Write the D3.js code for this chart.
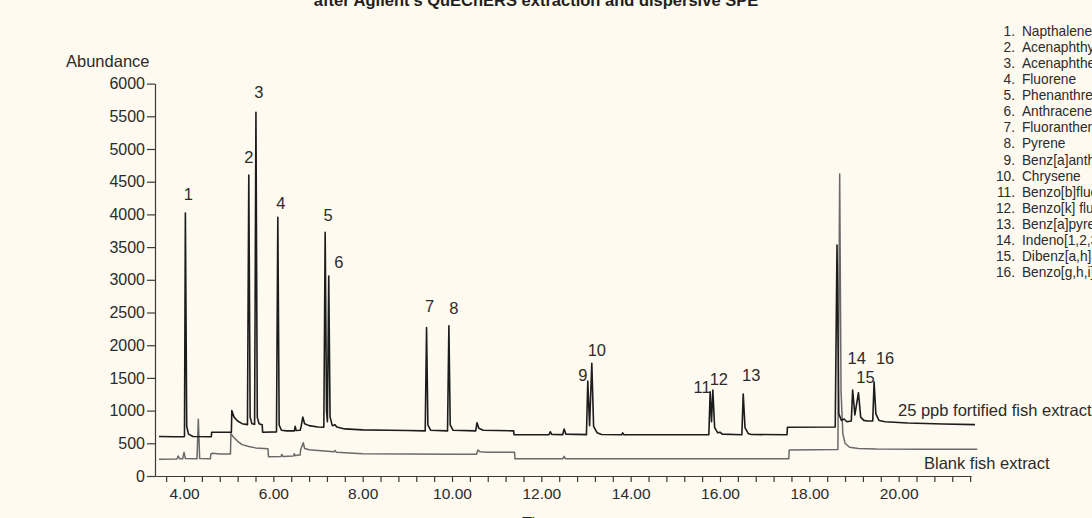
<!DOCTYPE html>
<html>
<head>
<meta charset="utf-8">
<script src="https://cdn.jsdelivr.net/npm/d3@7"></script>
<style>
  html, body { margin: 0; padding: 0; background: #fefaef; overflow: hidden; }
  svg { display: block; }
  .lbl { font-family: "Liberation Sans", Arial, sans-serif; fill: #2b2b2b; }
</style>
</head>
<body>
<div id="chart"></div>
<script>
// ---- data ----
var titleText = "after Agilent's QuEChERS extraction and dispersive SPE";

// 25 ppb fortified fish extract: [time (min), abundance]
var fortifiedTrace = [
    [3.44, 605], [3.8, 600], [4.0, 600],
    [4.01, 605], [4.03, 4020], [4.06, 760], [4.1, 640], [4.2, 605], [4.61, 600],
    [4.62, 670], [5.06, 670],
    [5.07, 1000], [5.12, 900], [5.2, 840], [5.3, 800], [5.42, 785],
    [5.45, 4600], [5.48, 900], [5.52, 800], [5.58, 790],
    [5.61, 5560], [5.64, 900], [5.68, 800], [5.75, 785],
    [5.76, 670], [6.07, 675],
    [6.10, 3955], [6.13, 780], [6.18, 700], [6.3, 690], [6.47, 690], [6.49, 760], [6.51, 695],
    [6.6, 700], [6.62, 750], [6.66, 900], [6.7, 800], [6.8, 770], [7.0, 750], [7.13, 745],
    [7.16, 3726], [7.19, 1000], [7.21, 830],
    [7.24, 3058], [7.27, 900], [7.32, 770], [7.38, 785], [7.42, 750], [7.6, 720], [8.0, 705],
    [8.6, 700], [9.0, 695], [9.40, 690],
    [9.43, 2268], [9.46, 780], [9.52, 700], [9.90, 690],
    [9.93, 2298], [9.96, 780], [10.02, 700], [10.53, 690], [10.56, 815], [10.6, 730], [10.7, 700], [11.38, 690],
    [11.39, 630], [12.17, 630], [12.20, 677], [12.23, 635], [12.48, 632], [12.51, 718], [12.55, 640], [13.01, 632],
    [13.04, 1452], [13.08, 770],
    [13.13, 1723], [13.17, 760], [13.25, 660], [13.35, 635], [13.8, 630], [13.82, 660], [13.85, 630], [15.75, 630],
    [15.78, 1289], [15.81, 830],
    [15.84, 1315], [15.88, 740], [15.95, 660], [16.0, 670], [16.05, 640], [16.49, 630],
    [16.52, 1254], [16.56, 740], [16.63, 650], [16.7, 635], [17.5, 630],
    [17.51, 745], [18.58, 750],
    [18.62, 3532], [18.66, 950], [18.72, 850], [18.78, 871], [18.84, 830], [18.94, 840],
    [18.97, 1315], [19.02, 933],
    [19.10, 1274], [19.15, 900], [19.22, 850], [19.3, 840], [19.42, 840],
    [19.45, 1442], [19.49, 950], [19.56, 850], [19.7, 830], [20.2, 810], [21.0, 795], [21.71, 785]
];

// blank fish extract: [time (min), abundance]
var blankTrace = [
    [3.44, 258], [3.84, 260], [3.87, 306], [3.9, 262], [3.97, 262], [4.0, 362], [4.03, 268],
    [4.29, 262], [4.32, 867], [4.35, 268], [4.59, 262],
    [4.60, 336], [4.64, 348], [4.8, 336], [5.04, 336],
    [5.05, 653], [5.1, 600], [5.2, 530], [5.3, 480], [5.45, 450], [5.6, 430], [5.88, 415],
    [5.89, 295], [6.17, 298], [6.19, 330], [6.21, 300], [6.45, 305], [6.47, 340], [6.49, 310],
    [6.55, 320], [6.60, 320], [6.61, 400], [6.67, 509], [6.7, 420], [6.8, 400], [7.0, 390],
    [7.36, 370], [7.38, 390], [7.41, 365], [8.0, 340], [9.0, 335], [10.0, 333],
    [10.55, 332], [10.58, 397], [10.63, 370], [10.8, 365], [11.40, 362],
    [11.41, 262], [12.48, 262], [12.51, 300], [12.54, 262], [13.8, 262], [17.54, 262],
    [17.55, 397], [18.64, 405], [18.68, 4618], [18.71, 1300], [18.75, 650], [18.8, 500],
    [18.9, 440], [19.1, 420], [19.5, 412], [20.5, 410], [21.76, 408]
];

// numbered peaks: retention time and apex abundance
var peakIds = ["1", "2", "3", "4", "5", "6", "7", "8", "9", "10", "11", "12", "13", "14", "15", "16"];
var peakTimes = [4.03, 5.45, 5.61, 6.10, 7.16, 7.24, 9.43, 9.93, 13.04, 13.13, 15.78, 15.84, 16.52, 18.97, 19.10, 19.45];
var peakApex = [4020, 4600, 5560, 3955, 3726, 3058, 2268, 2298, 1452, 1723, 1289, 1315, 1254, 1315, 1274, 1442];

var compounds = [
    "Napthalene", "Acenaphthylene", "Acenaphthene", "Fluorene", "Phenanthrene", "Anthracene",
    "Fluoranthene", "Pyrene", "Benz[a]anthracene", "Chrysene", "Benzo[b]fluoranthene",
    "Benzo[k] fluoranthene", "Benz[a]pyrene", "Indeno[1,2,3-cd]pyrene", "Dibenz[a,h]anthracene",
    "Benzo[g,h,i]perylene"
];

var yTicks = d3.range(0, 6001, 500);
var xTicks = d3.range(9, 55).map(function(i) { return +(i * 0.4).toFixed(1); });

// label nudges (px) from each apex
var labelNudge = [[3, -13], [0, -12], [3, -14], [3, -8], [3, -11], [10, -8], [3, -16], [5, -12],
                  [-5, 0], [5, -7], [-8, 1], [6, -5], [8, -13], [4, -26], [7, -10], [11, -18]];

// ---- layout ----
var W = 1092, H = 518;
var svg = d3.select("#chart").append("svg")
    .attr("width", W)
    .attr("height", H);

var x = d3.scaleLinear().domain([3.35, 21.62]).range([155, 971]);
var y = d3.scaleLinear().domain([0, 6000]).range([476, 83.6]);

// title (cut by the top edge)
svg.append("text")
    .attr("x", 536)
    .attr("y", 6)
    .attr("text-anchor", "middle")
    .style("font-family", "'Liberation Sans', Arial, sans-serif")
    .style("font-weight", "bold")
    .style("font-size", "16.5px")
    .style("fill", "#231f20")
    .text(titleText);

// axes
var yAxis = d3.axisLeft(y)
    .tickValues(yTicks)
    .tickSize(8)
    .tickSizeOuter(0)
    .tickPadding(2)
    .tickFormat(d3.format("d"));

var gy = svg.append("g")
    .attr("transform", "translate(155,0)")
    .call(yAxis);

var xAxis = d3.axisBottom(x)
    .tickValues(xTicks)
    .tickSize(6)
    .tickSizeOuter(0)
    .tickPadding(6)
    .tickFormat(function(d) {
        var r = Math.round(d);
        return (Math.abs(d - r) < 1e-6 && r % 2 === 0) ? d.toFixed(2) : "";
    });

var gx = svg.append("g")
    .attr("transform", "translate(0,476)")
    .call(xAxis);

[gx, gy].forEach(function(g) {
    g.selectAll("path, line").attr("stroke", "#3a3a3a").attr("stroke-width", 1.2);
    g.selectAll("text")
        .attr("class", "lbl")
        .attr("fill", null);
});
gy.selectAll("text").style("font-size", "16px");
gx.selectAll("text").style("font-size", "15.5px");

svg.append("text")
    .attr("class", "lbl")
    .attr("x", 66)
    .attr("y", 67)
    .style("font-size", "16.5px")
    .text("Abundance");

svg.append("text")
    .attr("class", "lbl")
    .attr("x", 540)
    .attr("y", 529)
    .attr("text-anchor", "middle")
    .style("font-size", "16.5px")
    .text("Time");

// traces
var line = d3.line()
    .x(function(d) { return x(d[0]); })
    .y(function(d) { return y(d[1]); });

svg.append("path")
    .datum(blankTrace)
    .attr("fill", "none")
    .attr("stroke", "#6a6a6a")
    .attr("stroke-width", 1.5)
    .attr("stroke-linejoin", "round")
    .attr("d", line);

svg.append("path")
    .datum(fortifiedTrace)
    .attr("fill", "none")
    .attr("stroke", "#1c1c1c")
    .attr("stroke-width", 1.6)
    .attr("stroke-linejoin", "round")
    .attr("d", line);

// peak numbers
svg.selectAll("text.peak")
    .data(peakIds)
    .enter().append("text")
    .attr("class", "lbl peak")
    .attr("text-anchor", "middle")
    .attr("x", function(d, i) { return x(peakTimes[i]) + labelNudge[i][0]; })
    .attr("y", function(d, i) { return y(peakApex[i]) + labelNudge[i][1]; })
    .style("font-size", "16.5px")
    .text(function(d) { return d; });

// trace names
svg.append("text")
    .attr("class", "lbl")
    .attr("x", 898)
    .attr("y", 416)
    .style("font-size", "16.5px")
    .text("25 ppb fortified fish extract");

svg.append("text")
    .attr("class", "lbl")
    .attr("x", 924)
    .attr("y", 469)
    .style("font-size", "16.5px")
    .text("Blank fish extract");

// compound list (condensed face: squeeze the group horizontally)
var legend = svg.append("g")
    .attr("transform", "translate(1015,0) scale(0.98,1)");
var rowH = 16.07;

legend.selectAll("text.num")
    .data(compounds)
    .enter().append("text")
    .attr("class", "lbl num")
    .attr("x", 0)
    .attr("y", function(d, i) { return 36 + i * rowH; })
    .attr("text-anchor", "end")
    .style("font-size", "14px")
    .text(function(d, i) { return (i + 1) + "."; });

legend.selectAll("text.name")
    .data(compounds)
    .enter().append("text")
    .attr("class", "lbl name")
    .attr("x", 7.1)
    .attr("y", function(d, i) { return 36 + i * rowH; })
    .style("font-size", "14px")
    .text(function(d) { return d; });
</script>
</body>
</html>
